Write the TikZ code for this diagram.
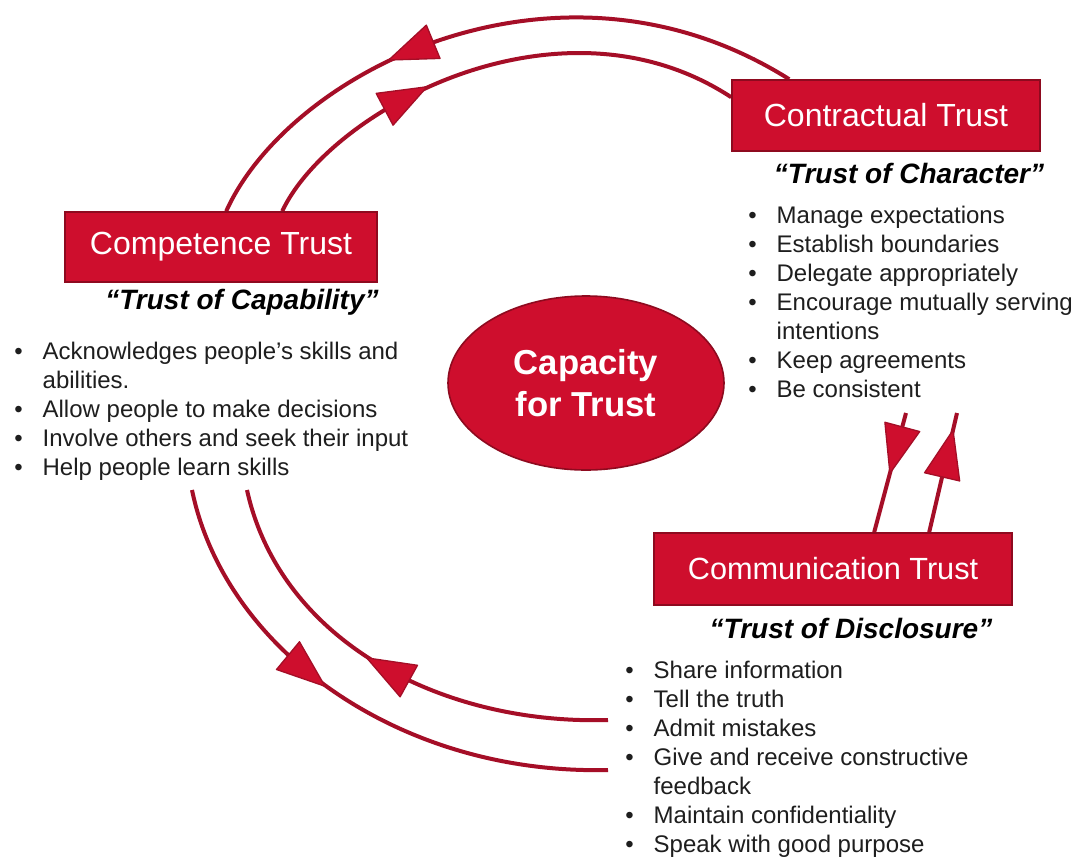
\documentclass[tikz,border=0pt]{standalone}
\usepackage{fontspec}
\setmainfont{Liberation Sans}
\usetikzlibrary{shapes.geometric,decorations.markings,calc,backgrounds}
\definecolor{boxred}{HTML}{CE0E2D}
\definecolor{edgered}{HTML}{8E0A1F}
\definecolor{linered}{HTML}{A50E27}
\definecolor{txt}{HTML}{1E1E1E}
\tikzset{
  trustbox/.style={rectangle, fill=boxred, draw=edgered, line width=1.2pt, text=white,
    font=\fontsize{24}{28}\selectfont, inner sep=0pt},
  cycleline/.style={draw=linered, line width=3pt},
  fwdarrow/.style={postaction={decorate}, decoration={markings, mark=at position #1 with
    {\fill[boxred, draw=linered, line width=1pt, line join=round] (19pt,0pt) -- (-17pt,13.5pt) -- (-17pt,-13.5pt) -- cycle;}}},
  bwdarrow/.style={postaction={decorate}, decoration={markings, mark=at position #1 with
    {\fill[boxred, draw=linered, line width=1pt, line join=round] (-19pt,0pt) -- (17pt,13.5pt) -- (17pt,-13.5pt) -- cycle;}}},
  subtitle/.style={font=\fontsize{21}{25}\selectfont\bfseries\itshape, text=black, inner sep=0pt},
  bulletlist/.style={font=\fontsize{18}{21.75}\selectfont, text=txt, inner sep=0pt, anchor=base west},
}
\begin{document}
\begin{tikzpicture}[x=0.75pt,y=-0.75pt]
\useasboundingbox (0,0) rectangle (1082,858);
% boxes
\node[trustbox, minimum width=231pt, minimum height=53.25pt] (contr) at (886,115.5) {Contractual Trust};
\node[trustbox, minimum width=234pt, minimum height=52.5pt] (comp) at (221,247) {Competence Trust};
\node[trustbox, minimum width=268.5pt, minimum height=54pt, font=\fontsize{23}{27}\selectfont] (comm) at (833,569) {Communication Trust};
\node[ellipse, fill=boxred, draw=edgered, line width=1.2pt, minimum width=207pt, minimum height=130.5pt,
  inner sep=0pt, text=white, font=\fontsize{26}{32}\selectfont\bfseries, align=center] (cap) at (586,383) {Capacity\\for Trust};
% subtitles
\node[subtitle] (contrsub) at (909,173) {“Trust of Character”};
\node[subtitle] (compsub) at (242,302) {“Trust of Capability”};
\node[subtitle] (commsub) at (851,628) {“Trust of Disclosure”};
% lists
\node[bulletlist] (contrlist) at (748,223) {\begin{tabular}[t]{@{}l@{\hspace{15pt}}l@{}}
•&Manage expectations\\
•&Establish boundaries\\
•&Delegate appropriately\\
•&Encourage mutually serving\\
&intentions\\
•&Keep agreements\\
•&Be consistent
\end{tabular}};
\node[bulletlist] (complist) at (14,359) {\begin{tabular}[t]{@{}l@{\hspace{15pt}}l@{}}
•&Acknowledges people’s skills and\\
&abilities.\\
•&Allow people to make decisions\\
•&Involve others and seek their input\\
•&Help people learn skills
\end{tabular}};
\node[bulletlist] (commlist) at (625,678) {\begin{tabular}[t]{@{}l@{\hspace{15pt}}l@{}}
•&Share information\\
•&Tell the truth\\
•&Admit mistakes\\
•&Give and receive constructive\\
&feedback\\
•&Maintain confidentiality\\
•&Speak with good purpose
\end{tabular}};
% free ends
\coordinate (bo1) at (192,490);
\coordinate (bo2) at (608,770);
\coordinate (bi1) at (247,490);
\coordinate (bi2) at (608,720);
\coordinate (rl) at (906,413);
\coordinate (rr) at (957,413);
\begin{scope}[on background layer]
\fill[white] (0,0) rectangle (1082,858);
\draw[cycleline, bwdarrow=0.39] ($(comp.north west)+(162,0)$) .. controls (290,70) and (560,-65) .. ($(contr.north west)+(58,0)$);
\draw[cycleline, fwdarrow=0.33] ($(comp.north west)+(218,0)$) .. controls (330,110) and (560,-15) .. ($(contr.north west)+(0,18)$);
\draw[cycleline, fwdarrow=0.40] (bo1) .. controls (225,650) and (400,775) .. (bo2);
\draw[cycleline, bwdarrow=0.51] (bi1) .. controls (280,640) and (440,725) .. (bi2);
\draw[cycleline, bwdarrow=0.70] ($(comm.north west)+(221,0)$) -- (rl);
\draw[cycleline, fwdarrow=0.65] ($(comm.north west)+(276,0)$) -- (rr);
\end{scope}
\end{tikzpicture}
\end{document}
